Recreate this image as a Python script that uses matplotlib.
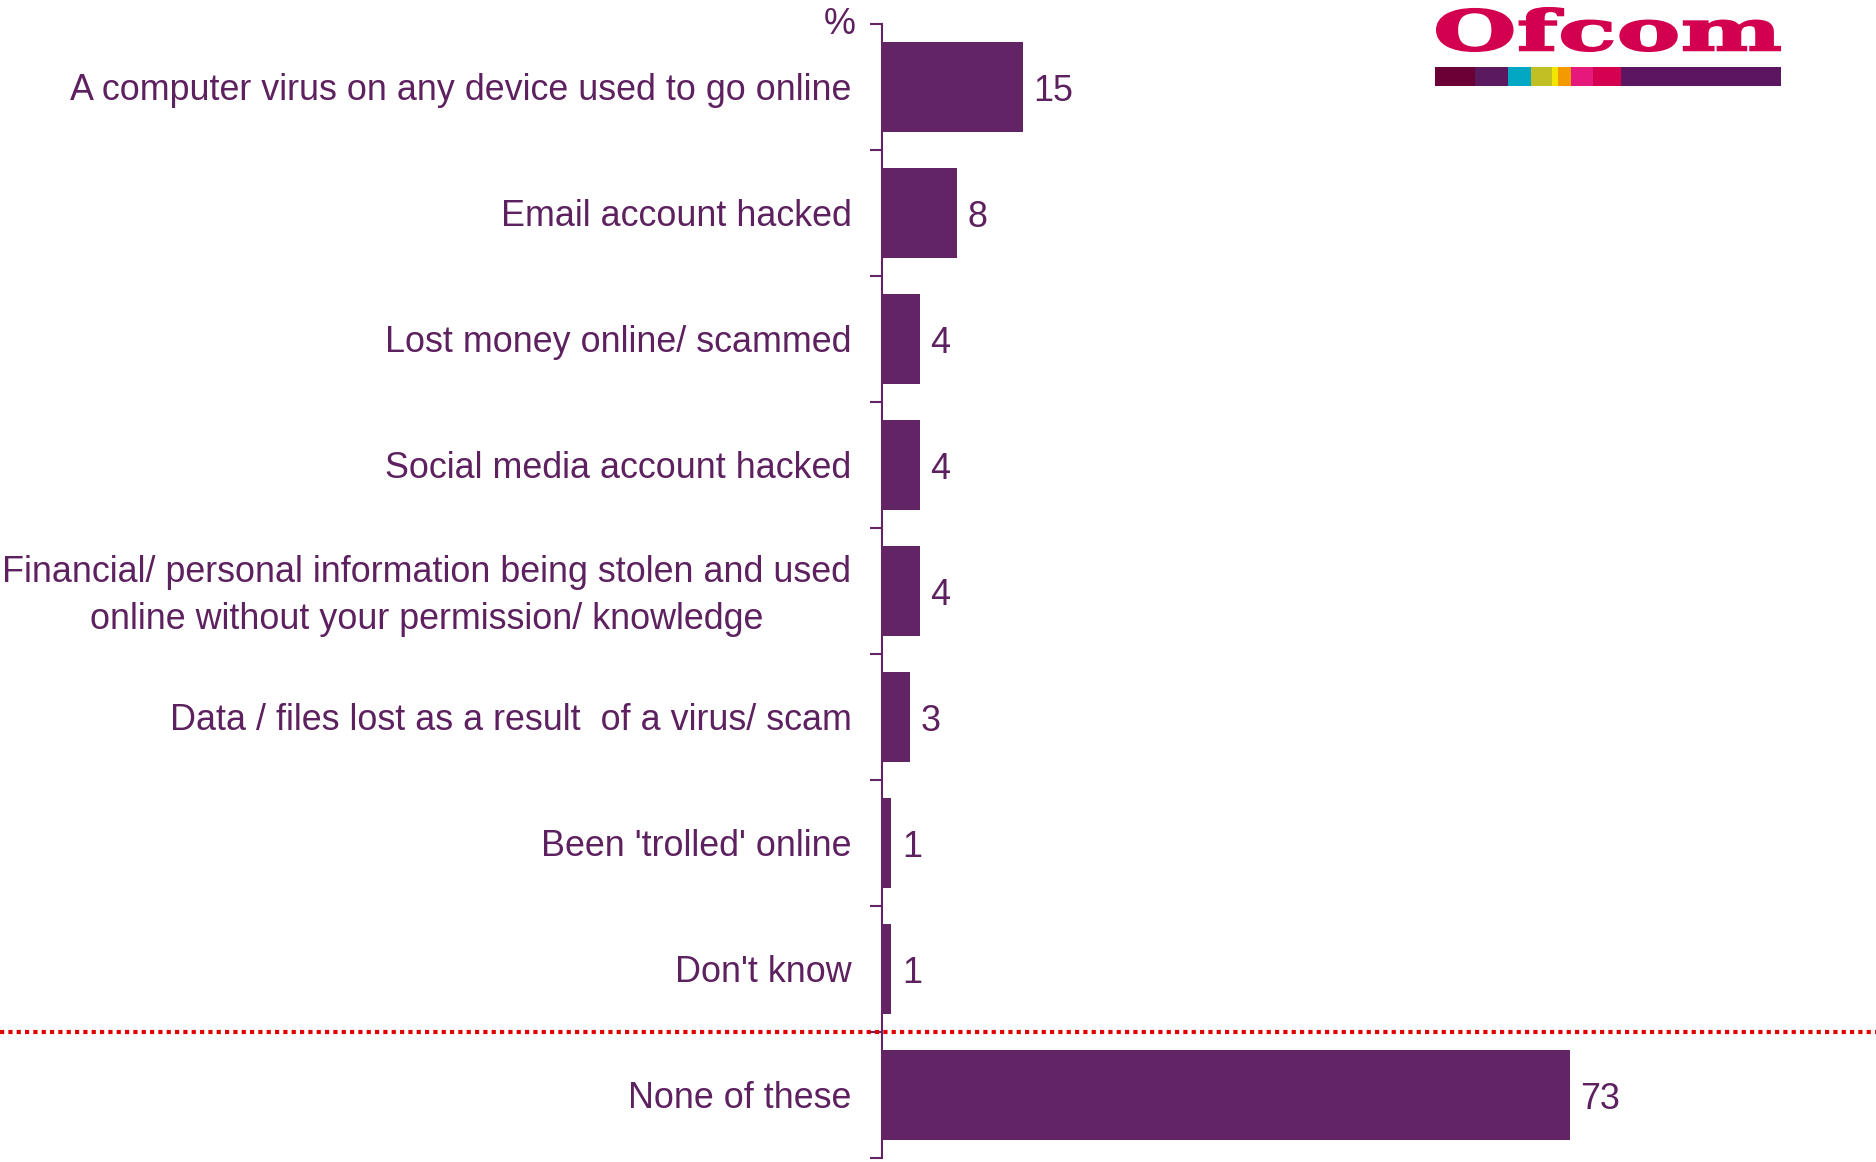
#!/usr/bin/env python3
"""
Horizontal bar chart: online problems experienced (%)
"""

import numpy as np
import matplotlib
matplotlib.use("Agg")
import matplotlib.pyplot as plt
from matplotlib.textpath import TextPath
from matplotlib.font_manager import FontProperties
from matplotlib.patches import PathPatch, Rectangle
from matplotlib.transforms import Affine2D, blended_transform_factory

categories = [
    "A computer virus on any device used to go online",
    "Email account hacked",
    "Lost money online/ scammed",
    "Social media account hacked",
    "Financial/ personal information being stolen and used\n"
    "online without your permission/ knowledge",
    "Data / files lost as a result  of a virus/ scam",
    "Been 'trolled' online",
    "Don't know",
    "None of these",
]
values = [15, 8, 4, 4, 4, 3, 1, 1, 73]

BAR_COLOR = "#622464"
TEXT_COLOR = "#5e2160"
FONT = "Liberation Sans"
FS = 25.8


def draw_logo(fig):
    """Ofcom wordmark with its colour stripe, placed in pixel units"""
    W, H = fig.get_size_inches() * fig.dpi

    def box(x0, y0, x1, y1):
        # pixel box (top-left origin) -> figure fraction
        return x0 / W, 1 - y1 / H, x1 / W, 1 - y0 / H

    tp = TextPath((0, 0), "Ofcom", size=1,
                  prop=FontProperties(family="DejaVu Serif", weight="bold"))
    ext = tp.get_extents()
    fx0, fy0, fx1, fy1 = box(1437, 8, 1780, 51)
    tr = (Affine2D().translate(-ext.x0, -ext.y0)
          .scale((fx1 - fx0) / ext.width, (fy1 - fy0) / ext.height)
          .translate(fx0, fy0))
    fig.add_artist(PathPatch(tr.transform_path(tp), transform=fig.transFigure,
                             facecolor="#d2004f", edgecolor="#d2004f", lw=1.5))

    stripe = [("#6a0035", 40), ("#5b1a5f", 33), ("#00a8c4", 23),
              ("#c0c024", 21), ("#f2e500", 6), ("#f39a00", 13),
              ("#e5197b", 22), ("#d5004f", 28), ("#5c1560", 160)]
    x = 1435
    for color, w in stripe:
        sx0, sy0, sx1, sy1 = box(x, 67, x + w, 86)
        fig.add_artist(Rectangle((sx0, sy0), sx1 - sx0, sy1 - sy0,
                                 transform=fig.transFigure,
                                 facecolor=color, edgecolor="none"))
        x += w


def main():
    plt.rcParams["font.family"] = [FONT, "DejaVu Sans"]
    fig = plt.figure(figsize=(18.76, 11.62), dpi=100)
    ax = fig.add_axes([882 / 1876, 1 - 1158 / 1162, 1 - 882 / 1876, (1158 - 24) / 1162])

    y = np.arange(len(categories))
    ax.barh(y, values, height=0.72, color=BAR_COLOR)
    for yi, v in zip(y, values):
        ax.annotate(str(v), (v, yi), xytext=(7.5, -3.2), textcoords="offset points",
                    va="center", ha="left", fontsize=FS, color=TEXT_COLOR)

    ax.set_xlim(0, 105.5)
    ax.set_ylim(len(categories) - 0.5, -0.5)

    # boundary ticks on the axis
    ax.set_yticks(np.arange(-0.5, len(categories), 1))
    ax.set_yticklabels([])
    ax.tick_params(axis="y", which="major", length=8.5, width=1.5,
                   color=BAR_COLOR, direction="out")
    ax.set_xticks([])

    # category names at the centres
    for yi, name in zip(y, categories):
        if "\n" in name:
            va, dy = "center", -3.5
        else:
            va, dy = "center_baseline", 0
        ax.annotate(name, (0, yi), xycoords=("axes fraction", "data"),
                    xytext=(-22, dy), textcoords="offset points",
                    ha="right", va=va, multialignment="center", linespacing=1.47,
                    fontsize=FS, color=TEXT_COLOR, annotation_clip=False)

    for side in ["top", "right", "bottom"]:
        ax.spines[side].set_visible(False)
    ax.spines["left"].set_color(BAR_COLOR)
    ax.spines["left"].set_linewidth(1.5)

    ax.annotate("%", (0, -0.5), xytext=(-19, 0), textcoords="offset points",
                ha="right", va="center", fontsize=FS, color=TEXT_COLOR,
                annotation_clip=False)

    # dotted separator before "None of these", across the whole figure
    sep = blended_transform_factory(fig.transFigure, ax.transData)
    ax.plot([0, 1], [len(categories) - 1.5] * 2, transform=sep, clip_on=False,
            color="#e00000", lw=3, dashes=(1, 1), dash_capstyle="butt", zorder=5)

    draw_logo(fig)

    fig.savefig("out.png", dpi=100)
    plt.close(fig)


if __name__ == "__main__":
    main()
